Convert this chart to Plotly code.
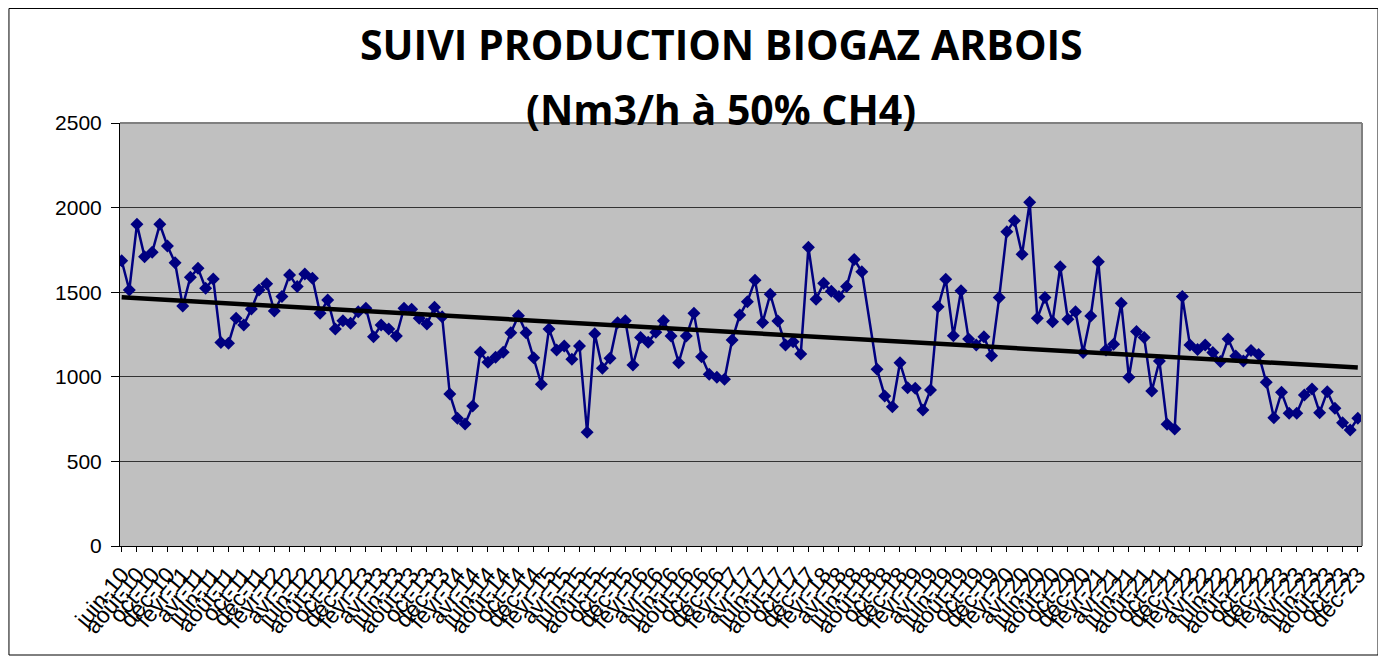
"""Suivi production biogaz Arbois - graphique Plotly"""

import numpy as np
import plotly.graph_objects as go


# Production mensuelle (Nm3/h à 50% CH4), de juin 2010 à décembre 2023
prod_2010 = [1686, 1513, 1901, 1710, 1736, 1901, 1773]  # juin -> déc
prod_2011 = [1674, 1418, 1588, 1641, 1523, 1578, 1202, 1198, 1346, 1306, 1401, 1513]
prod_2012 = [1550, 1389, 1474, 1602, 1533, 1608, 1582, 1375, 1454, 1283, 1332, 1316]
prod_2013 = [1385, 1405, 1237, 1306, 1283, 1241, 1405, 1399, 1346, 1312, 1411, 1355]
prod_2014 = [898, 755, 721, 827, 1145, 1086, 1115, 1145, 1261, 1361, 1261, 1113]
prod_2015 = [956, 1283, 1158, 1182, 1103, 1182, 672, 1255, 1050, 1109, 1320, 1332]
prod_2016 = [1070, 1233, 1204, 1263, 1332, 1241, 1083, 1241, 1375, 1119, 1015, 997]
prod_2017 = [985, 1217, 1365, 1444, 1570, 1321, 1488, 1330, 1188, 1207, 1135, 1765]
prod_2018 = [1458, 1553, 1505, 1474, 1533, 1694, 1621, None, 1044, 887, 823, 1083]
prod_2019 = [936, 932, 804, 922, 1414, 1576, 1243, 1509, 1223, 1188, 1237, 1125]
prod_2020 = [1468, 1858, 1923, 1724, 2031, 1346, 1468, 1326, 1651, 1340, 1385, 1143]
prod_2021 = [1360, 1680, 1158, 1192, 1434, 997, 1267, 1233, 916, 1093, 719, 691]
prod_2022 = [1474, 1188, 1162, 1188, 1143, 1090, 1223, 1123, 1093, 1156, 1132, 968]
prod_2023 = [758, 908, 784, 784, 892, 928, 788, 912, 814, 729, 686, 755]

MOIS_FR = ["janv", "févr", "mars", "avr", "mai", "juin",
           "juil", "août", "sept", "oct", "nov", "déc"]
ANNEES = list(range(2010, 2024))
MOIS_DEBUT = 5  # juin

Y_TICKS = [0, 500, 1000, 1500, 2000, 2500]

TITRE_1 = "SUIVI PRODUCTION BIOGAZ ARBOIS"
TITRE_2 = "(Nm3/h à 50% CH4)"

NAVY = "#000080"
FONT_AXE = dict(family="Liberation Sans, Arial, sans-serif", size=21, color="black")
FONT_X = dict(family="Liberation Sans, Arial, sans-serif", size=23, color="black")
FONT_TITRE = dict(family="Open Sans, sans-serif", size=41, color="black", weight="bold")


valeurs = (prod_2010 + prod_2011 + prod_2012 + prod_2013 + prod_2014 + prod_2015
           + prod_2016 + prod_2017 + prod_2018 + prod_2019 + prod_2020 + prod_2021
           + prod_2022 + prod_2023)

labels = []
for an in ANNEES:
    for m, nom in enumerate(MOIS_FR):
        if an == ANNEES[0] and m < MOIS_DEBUT:
            continue
        labels.append(f"{nom}-{str(an)[2:]}")

x = np.arange(len(valeurs))

# courbe de tendance linéaire (comme Excel)
xs = np.array([i for i, v in zip(x, valeurs) if v is not None])
ys = np.array([v for v in valeurs if v is not None], dtype=float)
pente, origine = np.polyfit(xs, ys, 1)
tendance = pente * x + origine

fig = go.Figure()
fig.add_trace(go.Scatter(
    x=x, y=valeurs,
    mode="lines+markers",
    connectgaps=True,
    line=dict(color=NAVY, width=2.5),
    marker=dict(symbol="diamond", size=10, color=NAVY),
    showlegend=False,
))
fig.add_trace(go.Scatter(
    x=x, y=tendance,
    mode="lines",
    line=dict(color="black", width=4.5),
    showlegend=False,
))

# bord gris haut / droite de la zone de tracé, cadre du graphique
fig.add_shape(type="line", xref="paper", yref="paper", x0=0, x1=1, y0=1, y1=1,
              line=dict(color="#808080", width=2))
fig.add_shape(type="line", xref="paper", yref="paper", x0=1, x1=1, y0=0, y1=1,
              line=dict(color="#808080", width=2))
fig.add_shape(type="rect", xref="paper", yref="paper",
              x0=-0.0894, x1=1.0129, y0=-0.2577, y1=1.2707,
              line=dict(color="black", width=1))

fig.add_annotation(text=f"<b>{TITRE_1}</b>", xref="paper", yref="paper",
                   x=0.484, y=1.187, xanchor="center", yanchor="middle",
                   showarrow=False, font=FONT_TITRE)
fig.add_annotation(text=f"<b>{TITRE_2}</b>", xref="paper", yref="paper",
                   x=0.484, y=1.033, xanchor="center", yanchor="middle",
                   showarrow=False, font=FONT_TITRE)

fig.update_layout(
    width=1378, height=650,
    margin=dict(l=112, r=24, t=115, b=112),
    paper_bgcolor="white",
    plot_bgcolor="#C0C0C0",
    font=FONT_AXE,
    xaxis=dict(
        range=[-0.22, 162.55],
        tickvals=x[::2],
        ticktext=labels[::2],
        tickangle=-50,
        tickfont=FONT_X,
        showgrid=False,
        zeroline=False,
        showline=True, linecolor="black", linewidth=1,
        ticks="outside", ticklen=5, tickcolor="black",
    ),
    yaxis=dict(
        range=[0, 2500],
        tickvals=Y_TICKS,
        tickfont=FONT_AXE,
        ticklabelstandoff=5,
        showgrid=True, gridcolor="#333333", gridwidth=1,
        zeroline=False,
        showline=True, linecolor="black", linewidth=1,
        ticks="outside", ticklen=8, tickcolor="black",
    ),
)

fig.write_html("out.html")
